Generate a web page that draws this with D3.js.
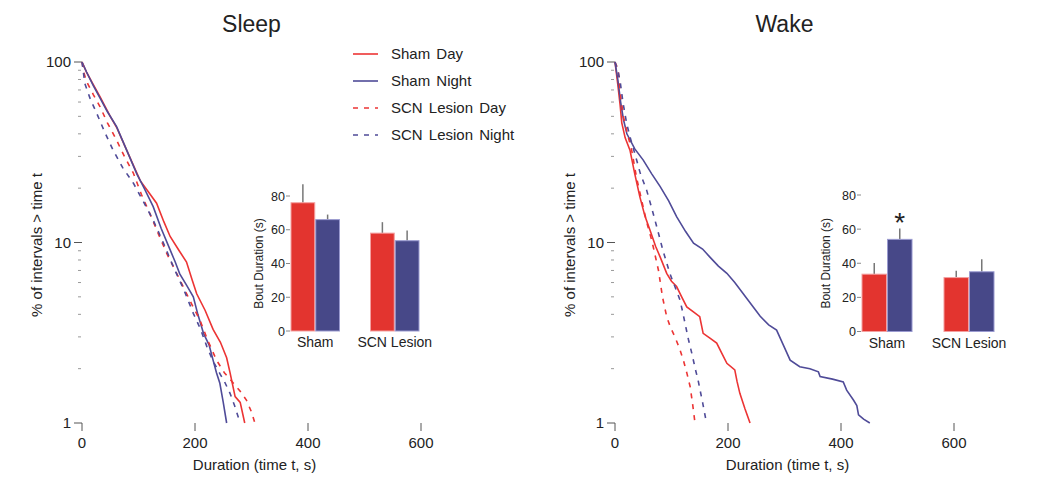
<!DOCTYPE html>
<html><head><meta charset="utf-8">
<script src="https://cdn.jsdelivr.net/npm/d3@7"></script>
<style>body{margin:0;background:#fff;} text{font-family:Arial,"Liberation Sans",Helvetica,sans-serif;fill:#222;}</style>
</head><body><svg id="c" width="1050" height="501"></svg>
<script>
// ---------- DATA ----------
const panelTitles = ["Sleep", "Wake"];
const xTicks = [0, 200, 400, 600];
const yTicksMajor = [1, 10, 100];
const seriesNames = ["Sham Day", "Sham Night", "SCN Lesion Day", "SCN Lesion Night"];

// Survival curves [duration s, % of intervals > t]
const sleepShamDay = [[0,100],[8,88],[20,75],[32,64],[50,50],[62,43],[80,32],[103,22],[118,19],[132,16.5],[145,13],[156,10.8],[172,9],[185,7.8],[195,6.2],[203,5.2],[218,4.2],[232,3.3],[245,2.8],[256,2.3],[262,1.9],[271,1.4],[280,1.3],[288,1]];
const sleepShamNight = [[0,100],[8,88],[20,74],[32,63],[45,53],[61,44],[80,32],[97,24],[110,20],[126,15.8],[140,12],[156,9.1],[165,7.8],[173,6.7],[185,5.8],[197,5.0],[205,4.0],[215,3.14],[225,2.7],[232,2.23],[238,1.9],[244,1.66],[250,1.3],[256,1]];
const sleepSCNDay = [[0,100],[3,88],[8,78],[20,66],[32,56.5],[45,46],[61,37],[75,30],[91,24.2],[105,18.5],[120,14.5],[135,11.2],[150,8.7],[165,7],[179,5.7],[195,4.5],[209,3.7],[222,2.9],[238,2.23],[252,1.9],[268,1.66],[280,1.5],[291,1.34],[300,1.15],[306,1]];
const sleepSCNNight = [[0,100],[2,90],[5,76],[15,62],[26,52],[40,41],[55,32.5],[72,26],[91,21.3],[108,17],[126,13.3],[142,10.3],[162,7.3],[180,5.5],[197,4.05],[210,3.3],[221,2.65],[232,2.2],[244,1.88],[252,1.7],[262,1.46],[270,1.25],[280,1]];

const wakeShamDay = [[0,100],[5,75],[9,58],[12,46],[18,38],[26.5,32.5],[35,24],[44,17.9],[53,14],[62,11.7],[72,9.5],[80,8.3],[91.5,6.75],[100,6.1],[109,5.7],[118,5],[127,4.4],[140,4.1],[150,3.88],[156,3.14],[168,2.95],[180,2.77],[190,2.4],[198,2.14],[212,1.97],[216,1.7],[221,1.46],[230,1.2],[239,1]];
const wakeShamNight = [[0,100],[5,80],[10,60],[15,48],[21,40],[35,33],[50,28.6],[65,24],[80,20.4],[95,17],[109,13.9],[125,11.5],[139,9.9],[155,9.2],[168,8.3],[183,7.4],[198,6.75],[212,6.0],[227,5.2],[242,4.5],[257,3.9],[272,3.5],[286,3.27],[298,2.7],[310,2.23],[327,2.05],[345,2.0],[360,1.92],[363,1.81],[385,1.75],[404,1.69],[410,1.52],[422,1.34],[428,1.25],[431,1.11],[440,1.05],[451,1]];
const wakeSCNDay = [[0,100],[3,95],[6,88],[10,65],[14.7,50],[22,40],[29.5,32.5],[38,23],[47,17.2],[56,13],[65,10.3],[71,8.5],[77,7],[84,5],[91.5,3.88],[98,3.4],[106,3],[114,2.6],[121,2.23],[127,1.9],[133,1.59],[137,1.3],[141.6,1]];
const wakeSCNNight = [[0,100],[4,92],[8.8,79.5],[14,60],[20.6,45.7],[27,38],[35,31.2],[45,24],[56,19.5],[65,15.5],[74,12.2],[85,9],[97,6.75],[106,5.7],[115,4.8],[120,4.1],[124,3.56],[130,2.9],[136,2.43],[142,2.0],[147,1.73],[155,1.3],[162,1]];

// Inset bar charts: mean bout duration (s) and upper error
const barGroups = ["Sham", "SCN Lesion"];
const barTicks = [0, 20, 40, 60, 80];
const sleepBarDay = [76, 58];
const sleepBarDayErr = [11, 6.5];
const sleepBarNight = [66, 53.5];
const sleepBarNightErr = [3, 6];
const wakeBarDay = [33.6, 31.6];
const wakeBarDayErr = [6.5, 4];
const wakeBarNight = [54, 35];
const wakeBarNightErr = [6.3, 7.3];

// ---------- DRAW ----------
const RED = "#ec3434", BLUE = "#4f4b98";
const BAR_RED = "#e3342f", BAR_BLUE = "#474888";
const svg = d3.select("#c");

const panels = [
  {title: panelTitles[0], x0: 82, curves: [sleepShamDay, sleepShamNight, sleepSCNDay, sleepSCNNight],
   inset: {range: [291, 419], y: [331, 196], day: sleepBarDay, dayErr: sleepBarDayErr, night: sleepBarNight, nightErr: sleepBarNightErr, labelX: 263, star: false}},
  {title: panelTitles[1], x0: 615, curves: [wakeShamDay, wakeShamNight, wakeSCNDay, wakeSCNNight],
   inset: {range: [862, 994], y: [331.5, 195], day: wakeBarDay, dayErr: wakeBarDayErr, night: wakeBarNight, nightErr: wakeBarNightErr, labelX: 830, star: true}}
];
const styles = [
  {color: RED, dash: null}, {color: BLUE, dash: null},
  {color: RED, dash: "5,6"}, {color: BLUE, dash: "5,6"}
];

panels.forEach(p => {
  const x = d3.scaleLinear().domain([0, 600]).range([p.x0, p.x0 + 339]);
  const y = d3.scaleLog().domain([1, 100]).range([423, 62]);
  const g = svg.append("g");

  // title
  g.append("text").attr("x", x(300)).attr("y", 32).attr("text-anchor", "middle")
    .attr("font-size", 23).text(p.title);

  // y ticks
  yTicksMajor.forEach(v => {
    g.append("line").attr("x1", p.x0 - 8).attr("x2", p.x0).attr("y1", y(v)).attr("y2", y(v))
      .attr("stroke", "#555").attr("stroke-width", 1);
    g.append("text").attr("x", p.x0 - 11).attr("y", y(v) + 5).attr("text-anchor", "end")
      .attr("font-size", 15).text(v);
  });
  const minor = [];
  [1, 10].forEach(d => { for (let k = 2; k <= 9; k++) minor.push(d * k); });
  minor.forEach(v => {
    g.append("line").attr("x1", p.x0 - 4).attr("x2", p.x0 - 1).attr("y1", y(v)).attr("y2", y(v))
      .attr("stroke", "#999").attr("stroke-width", 1);
  });
  // x ticks
  xTicks.forEach(v => {
    g.append("line").attr("x1", x(v)).attr("x2", x(v)).attr("y1", 423).attr("y2", 431)
      .attr("stroke", "#555").attr("stroke-width", 1);
    g.append("text").attr("x", x(v)).attr("y", 448).attr("text-anchor", "middle")
      .attr("font-size", 15).text(v);
  });
  g.append("text").attr("x", x(300) + 3).attr("y", 470).attr("text-anchor", "middle")
    .attr("font-size", 15).text("Duration (time t, s)");
  g.append("text").attr("transform", `translate(${p.x0 - 40},245) rotate(-90)`)
    .attr("text-anchor", "middle").attr("font-size", 15).text("% of intervals > time t");

  // curves
  const line = d3.line().x(d => x(d[0])).y(d => y(d[1]));
  p.curves.forEach((c, i) => {
    g.append("path").datum(c).attr("d", line).attr("fill", "none")
      .attr("stroke", styles[i].color).attr("stroke-width", 1.6)
      .attr("stroke-dasharray", styles[i].dash);
  });

  // inset bars
  const ins = p.inset;
  const xb = d3.scaleBand().domain(barGroups).range(ins.range).paddingInner(0.39);
  const xs = d3.scaleBand().domain(["day", "night"]).range([0, xb.bandwidth()]).paddingInner(0.04);
  const yb = d3.scaleLinear().domain([0, 80]).range(ins.y);
  const axisX = ins.range[0] - 1;
  barTicks.forEach(v => {
    g.append("line").attr("x1", axisX - 4).attr("x2", axisX).attr("y1", yb(v)).attr("y2", yb(v))
      .attr("stroke", "#888");
    g.append("text").attr("x", axisX - 5).attr("y", yb(v) + 4.5).attr("text-anchor", "end")
      .attr("font-size", 12.5).text(v);
  });
  g.append("text").attr("transform", `translate(${ins.labelX},${(ins.y[0] + ins.y[1]) / 2}) rotate(-90)`)
    .attr("text-anchor", "middle").attr("font-size", 12).text("Bout Duration (s)");
  barGroups.forEach((grp, i) => {
    const sets = [
      {k: "day", v: ins.day[i], e: ins.dayErr[i], fill: BAR_RED, edge: "#f4a0a0"},
      {k: "night", v: ins.night[i], e: ins.nightErr[i], fill: BAR_BLUE, edge: "#9a9ad0"}
    ];
    sets.forEach(s => {
      const bx = xb(grp) + xs(s.k), bw = xs.bandwidth();
      g.append("line").attr("x1", bx + bw / 2).attr("x2", bx + bw / 2)
        .attr("y1", yb(s.v)).attr("y2", yb(s.v + s.e)).attr("stroke", "#777").attr("stroke-width", 1.5);
      g.append("rect").attr("x", bx).attr("y", yb(s.v)).attr("width", bw).attr("height", yb(0) - yb(s.v))
        .attr("fill", s.fill).attr("stroke", s.edge).attr("stroke-width", 1);
    });
    g.append("text").attr("x", xb(grp) + xb.bandwidth() / 2).attr("y", yb(0) + 16)
      .attr("text-anchor", "middle").attr("font-size", 14).text(grp);
  });
  if (ins.star) {
    const bx = xb(barGroups[0]) + xs("night") + xs.bandwidth() / 2;
    g.append("text").attr("x", bx).attr("y", yb(ins.night[0] + ins.nightErr[0]) + 3)
      .attr("text-anchor", "middle").attr("font-size", 28).text("*");
  }
});

// legend
const lg = svg.append("g");
seriesNames.forEach((n, i) => {
  const yy = 54 + i * 27;
  lg.append("line").attr("x1", 353).attr("x2", 378).attr("y1", yy).attr("y2", yy)
    .attr("stroke", styles[i].color).attr("stroke-width", 1.6).attr("stroke-dasharray", styles[i].dash);
  lg.append("text").attr("x", 391).attr("y", yy + 5).attr("font-size", 15).attr("word-spacing", 2).text(n);
});
</script></body></html>
